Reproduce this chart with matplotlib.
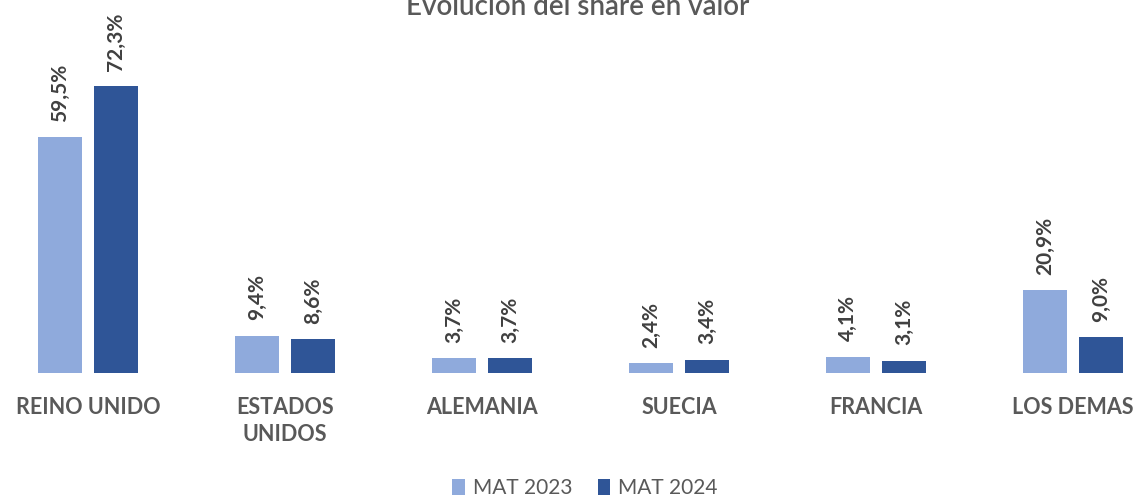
import matplotlib
matplotlib.use("Agg")
import matplotlib.pyplot as plt
import numpy as np

categories = ["REINO UNIDO", "ESTADOS\nUNIDOS", "ALEMANIA", "SUECIA", "FRANCIA", "LOS DEMAS"]
mat2023 = [59.5, 9.4, 3.7, 2.4, 4.1, 20.9]
mat2024 = [72.3, 8.6, 3.7, 3.4, 3.1, 9.0]
series_names = ["MAT 2023", "MAT 2024"]
colors = ["#8FAADC", "#2F5597"]

plt.rcParams['font.family'] = ['Lato', 'DejaVu Sans']
fig = plt.figure(figsize=(11.42, 4.99), dpi=100)
W, H = 1142, 499
# axes: x from -10 to 1172 px, y baseline at 373 px, 3.97 px per unit
left = -10.5 / W
width = 1182 / W
bottom = (H - 373) / H
ymax = 373 / 3.97
height = 373 / H
ax = fig.add_axes([left, bottom, width, height])

x = np.arange(len(categories))
bw = 0.22
off = 0.142
b1 = ax.bar(x - off, mat2023, bw, color=colors[0], label=series_names[0])
b2 = ax.bar(x + off, mat2024, bw, color=colors[1], label=series_names[1])

for bars, vals in ((b1, mat2023), (b2, mat2024)):
    for rect, v in zip(bars, vals):
        ax.annotate(f"{v:.1f}%".replace(".", ","),
                    (rect.get_x() + rect.get_width() / 2, rect.get_height()),
                    xytext=(0, 11), textcoords="offset points",
                    rotation=90, ha="center", va="bottom",
                    fontsize=15, fontweight="bold", color="#404040")

ax.set_xlim(-0.5, len(categories) - 0.5)
ax.set_ylim(0, ymax)
ax.set_xticks(x)
ax.set_xticklabels(categories, fontsize=15.5, color="#595959", fontweight="bold", linespacing=1.35)
ax.tick_params(axis="x", length=0, pad=17)
ax.set_yticks([])
for s in ax.spines.values():
    s.set_visible(False)

fig.text(578 / W, 1 - 15 / H, "Evolución del share en valor", ha="center", va="baseline",
         fontsize=20, fontweight="semibold", color="#595959")

fig.legend(handles=[b1, b2], labels=series_names, loc="center", bbox_to_anchor=(585 / W, 1 - 488 / H),
           ncol=2, frameon=False, fontsize=15, labelcolor="#595959",
           handlelength=0.6, handleheight=0.8, handletextpad=0.4, columnspacing=1.2)

fig.savefig("out.png", dpi=100)
